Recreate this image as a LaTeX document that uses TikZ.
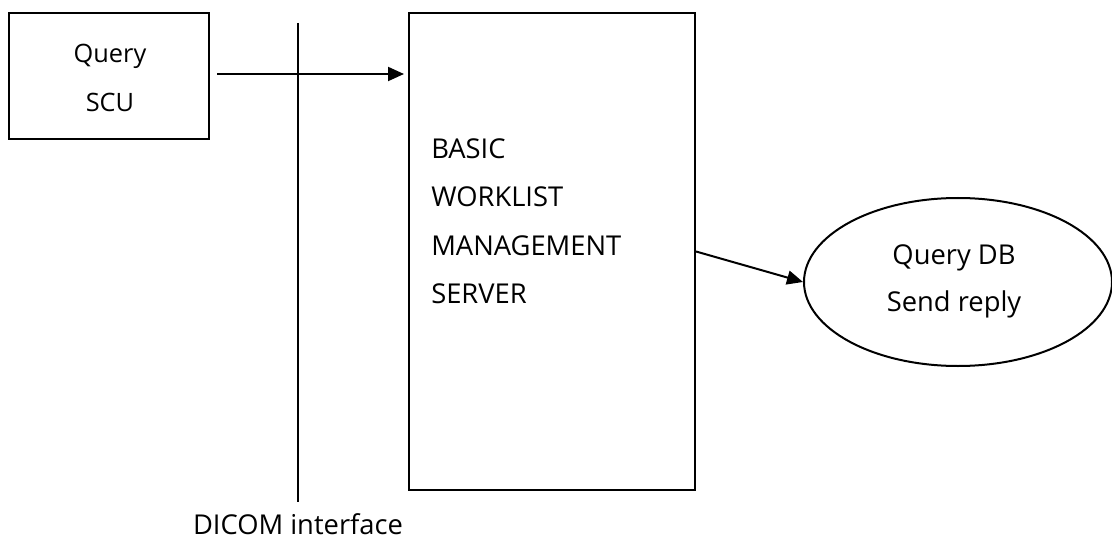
\documentclass[tikz,border=0pt]{standalone}
\usepackage{fontspec}
\setmainfont{Open Sans}
\usetikzlibrary{arrows.meta,shapes.geometric}
\tikzset{
  outlined/.style={draw=black, line width=1.5pt, inner sep=0pt},
  big/.style={font=\fontsize{20.5}{24}\selectfont, inner sep=0pt, text=black},
  small/.style={font=\fontsize{19}{22}\selectfont, inner sep=0pt, text=black},
  conn/.style={line width=1.5pt, -{Triangle[length=12pt,width=10.5pt]}},
  plainline/.style={line width=1.5pt}
}
\begin{document}
\begin{tikzpicture}[x=0.75pt,y=-0.75pt]
\useasboundingbox (0,0) rectangle (1112,538);
% shapes
\node[outlined, rectangle, minimum width=150pt, minimum height=94.5pt] (qscu) at (109,76) {};
\node[outlined, rectangle, minimum width=214.5pt, minimum height=357.75pt] (server) at (552,251.5) {};
\node[outlined, ellipse, minimum width=231pt, minimum height=126pt] (db) at (958,282) {};
% texts
\node[small, anchor=base] (q1) at (110,63) {Query};
\node[small, anchor=base] (q2) at (110,112) {SCU};
\node[big, anchor=base west] (s1) at (431,159) {BASIC};
\node[big, anchor=base west] (s2) at (431,207) {WORKLIST};
\node[big, anchor=base west] (s3) at (431,255) {MANAGEMENT};
\node[big, anchor=base west] (s4) at (431,303) {SERVER};
\node[big, anchor=base] (d1) at (954,264) {Query DB};
\node[big, anchor=base] (d2) at (954,311) {Send reply};
\node[big, anchor=base, text depth=0pt] (dicom) at (298,534) {DICOM interface};
% DICOM interface line
\coordinate (ltop) at (298,23);
\coordinate (lbot) at (298,502);
\draw[plainline] (ltop) -- (lbot);
% connectors
\draw[conn, shorten <=5.25pt, shorten >=3pt] ([yshift=1.5pt]qscu.east) -- ([yshift=1.5pt]qscu.east -| server.west);
\draw[conn] (server.east) -- (db.west);
\end{tikzpicture}
\end{document}
